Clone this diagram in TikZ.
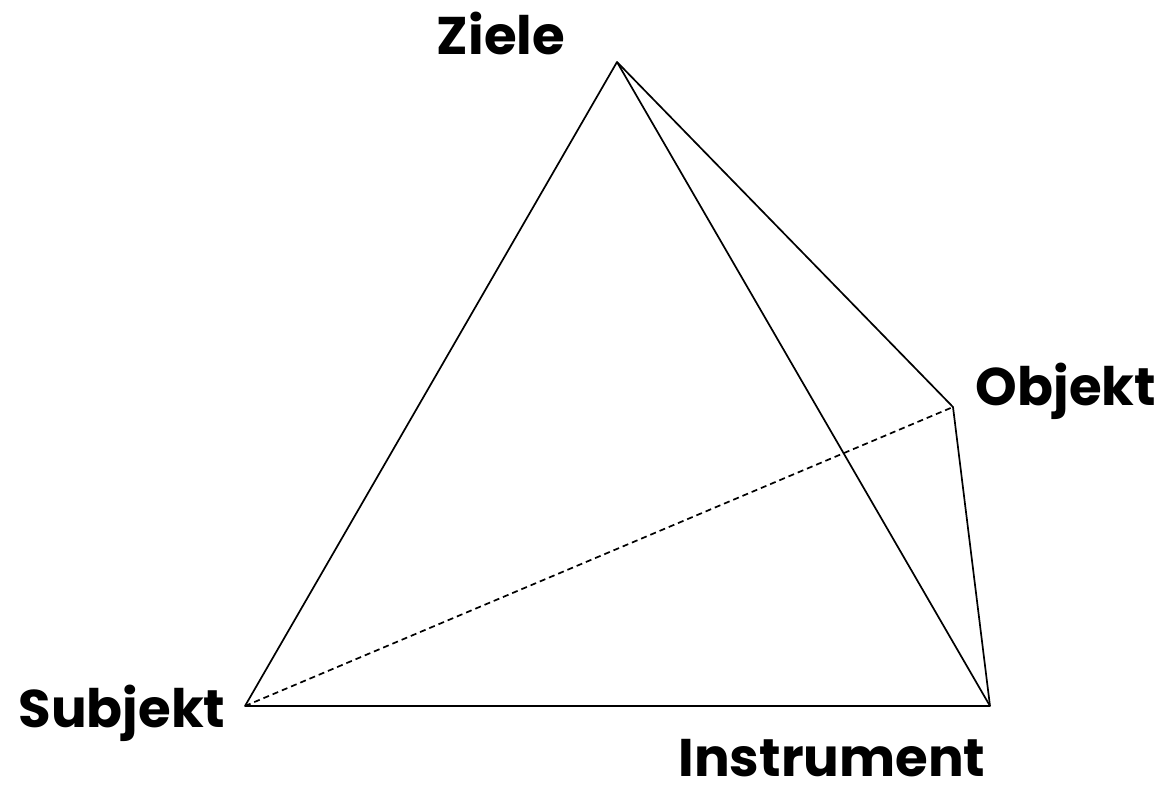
\documentclass[tikz,border=0pt]{standalone}
\usepackage{fontspec}
\setmainfont{Poppins}
\begin{document}
\begin{tikzpicture}[x=1pt,y=-1pt,
  edge/.style={line width=1.7pt, line join=round},
  hidden/.style={edge, dash pattern=on 6pt off 4pt},
  vlabel/.style={font=\fontsize{53}{53}\selectfont\bfseries, inner sep=0pt, anchor=base}]
  \useasboundingbox (0,0) rectangle (1163,787);
  % vertices of the tetrahedron
  \coordinate (Z) at (617,62);
  \coordinate (S) at (245,706);
  \coordinate (I) at (990,706);
  \coordinate (O) at (953,407);
  % edges
  \draw[hidden] (S) -- (O);
  \draw[edge] (Z) -- (S) -- (I) -- cycle;
  \draw[edge] (Z) -- (O) -- (I);
  % labels
  \node[vlabel] (lz) at (501,54) {Ziele};
  \node[vlabel] (lo) at (1066,405) {Objekt};
  \node[vlabel] (ls) at (122,727) {Subjekt};
  \node[vlabel, text depth=0pt] (li) at (832,776) {Instrument};
\end{tikzpicture}
\end{document}
